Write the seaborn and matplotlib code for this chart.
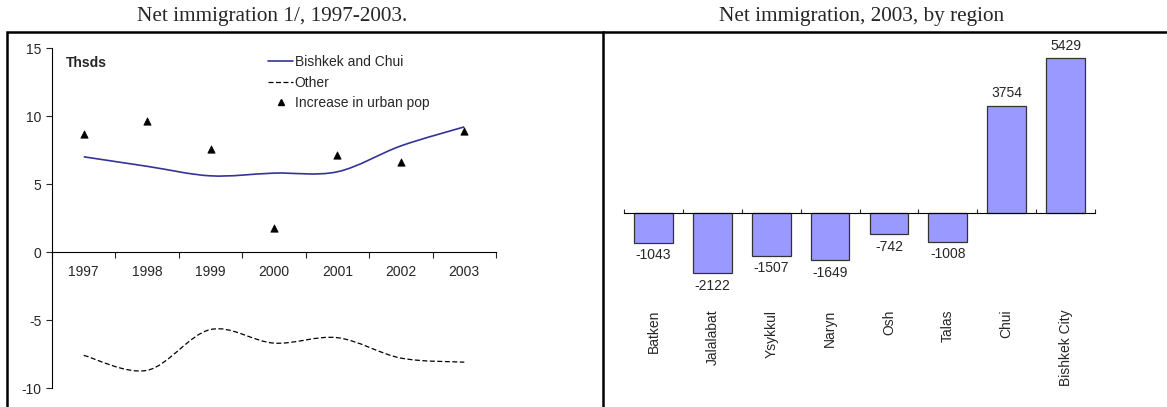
import numpy as np
import pandas as pd
import matplotlib.pyplot as plt
import seaborn as sns
from matplotlib.path import Path
from matplotlib.patches import PathPatch, Rectangle
from matplotlib.lines import Line2D

sns.set_style("ticks")
plt.rcParams["font.family"] = ["Liberation Sans", "DejaVu Sans"]
plt.rcParams["axes.unicode_minus"] = False

# left chart: net immigration, thousands
years = ["1997", "1998", "1999", "2000", "2001", "2002", "2003"]
bishkek_chui = [7.0, 6.3, 5.6, 5.8, 5.9, 7.8, 9.2]
other = [-7.6, -8.7, -5.7, -6.7, -6.3, -7.8, -8.1]
urban_increase = [8.7, 9.6, 7.6, 1.8, 7.1, 6.6, 8.9]

# right chart: net immigration 2003 by region
regions = ["Batken", "Jalalabat", "Ysykkul", "Naryn", "Osh", "Talas", "Chui", "Bishkek City"]
net_2003 = [-1043, -2122, -1507, -1649, -742, -1008, 3754, 5429]

W, H = 1167, 407
dpi = 100


def smooth_path(ys):
  # excel-style smoothed line: bezier segments through the points
  p = np.column_stack([np.arange(len(ys)), ys]).astype(float)
  ext = np.vstack([p[0], p, p[-1]])
  verts = [p[0]]
  codes = [Path.MOVETO]
  for i in range(len(p) - 1):
    p0, p1, p2, p3 = ext[i], ext[i + 1], ext[i + 2], ext[i + 3]
    verts += [p1 + (p2 - p0) / 6, p2 - (p3 - p1) / 6, p2]
    codes += [Path.CURVE4] * 3
  return Path(verts, codes)


fig = plt.figure(figsize=(W / dpi, H / dpi), dpi=dpi)

# frame lines around the panels
fig.add_artist(Rectangle((7 / W, -0.05), (603 - 7) / W, (H - 32) / H + 0.05,
                         transform=fig.transFigure, fill=False, lw=1.8, ec="black"))
fig.add_artist(Line2D([603 / W, 1.0], [(H - 32) / H] * 2, transform=fig.transFigure,
                      lw=1.8, color="black"))

fig.text(272 / W, (H - 17) / H, "Net immigration 1/, 1997-2003.", ha="center", va="center",
         fontsize=15.3, family="Liberation Serif")
fig.text(862 / W, (H - 17) / H, "Net immigration, 2003, by region", ha="center", va="center",
         fontsize=15.3, family="Liberation Serif")

# ---- left chart
ax1 = fig.add_axes([52 / W, 19 / H, 444 / W, 340 / H])
df = pd.DataFrame({"pos": np.arange(len(years)), "urban": urban_increase})
ax1.add_patch(PathPatch(smooth_path(bishkek_chui), fill=False, ec="#333399", lw=1.2))
ax1.add_patch(PathPatch(smooth_path(other), fill=False, ec="black", lw=0.9, ls=(0, (4, 2))))
sns.scatterplot(data=df, x="pos", y="urban", marker="^", color="black", s=28,
                edgecolor="black", linewidth=0.5, ax=ax1)
ax1.set_xlim(-0.5, len(years) - 0.5)
ax1.set_ylim(-10, 15)
ax1.set_xlabel("")
ax1.set_ylabel("")
ax1.spines["top"].set_visible(False)
ax1.spines["right"].set_visible(False)
ax1.spines["bottom"].set_position(("data", 0))
ax1.set_xticks(range(len(years)))
ax1.set_xticklabels(years)
ax1.set_xticks(np.arange(-0.5, len(years)), minor=True)
ax1.tick_params(axis="x", which="major", length=0, pad=9, labelsize=10)
ax1.tick_params(axis="x", which="minor", length=4, direction="out", width=0.8)
ax1.set_yticks([-10, -5, 0, 5, 10, 15])
ax1.tick_params(axis="y", length=4, direction="out", width=0.8, labelsize=10)
for s in ["left", "bottom"]:
  ax1.spines[s].set_linewidth(0.8)
  ax1.spines[s].set_color("black")
ax1.text(0.032, 0.955, "Thsds", transform=ax1.transAxes, fontsize=10, fontweight="bold",
         va="center")
handles = [Line2D([], [], color="#333399", lw=1.2),
           Line2D([], [], color="black", lw=0.9, ls=(0, (4, 2))),
           Line2D([], [], color="black", marker="^", ls="none", markersize=5)]
ax1.legend(handles, ["Bishkek and Chui", "Other", "Increase in urban pop"],
           loc="upper left", bbox_to_anchor=(0.475, 0.995), frameon=False, fontsize=10,
           handlelength=1.75, handletextpad=0.15, labelspacing=0.45, borderaxespad=0)

# ---- right chart
ax2 = fig.add_axes([624 / W, (H - 298.5) / H, 471 / W, 251 / H])
sns.barplot(x=regions, y=net_2003, color="#9999FF", saturation=1, edgecolor="#333333",
            linewidth=0.9, width=0.66, ax=ax2)
ax2.set_xlim(-0.5, len(regions) - 0.5)
ax2.set_ylim(-3000, 5800)
ax2.bar_label(ax2.containers[0], fmt="%d", padding=4, fontsize=10)
for s in ["left", "right", "top"]:
  ax2.spines[s].set_visible(False)
ax2.set_yticks([])
ax2.spines["bottom"].set_position(("data", 0))
ax2.spines["bottom"].set_linewidth(0.8)
ax2.spines["bottom"].set_color("black")
ax2.set_xticks(np.arange(-0.5, len(regions)), minor=True)
ax2.tick_params(axis="x", which="minor", length=3, direction="in", width=0.8)
ax2.tick_params(axis="x", which="major", length=0, labelbottom=False)
ax2.set_xticks(range(len(regions)))
for i, r in enumerate(regions):
  ax2.text(i, -0.045, r, transform=ax2.get_xaxis_transform(), rotation=90,
           ha="center", va="top", fontsize=10)

fig.savefig("out.png", dpi=dpi)
